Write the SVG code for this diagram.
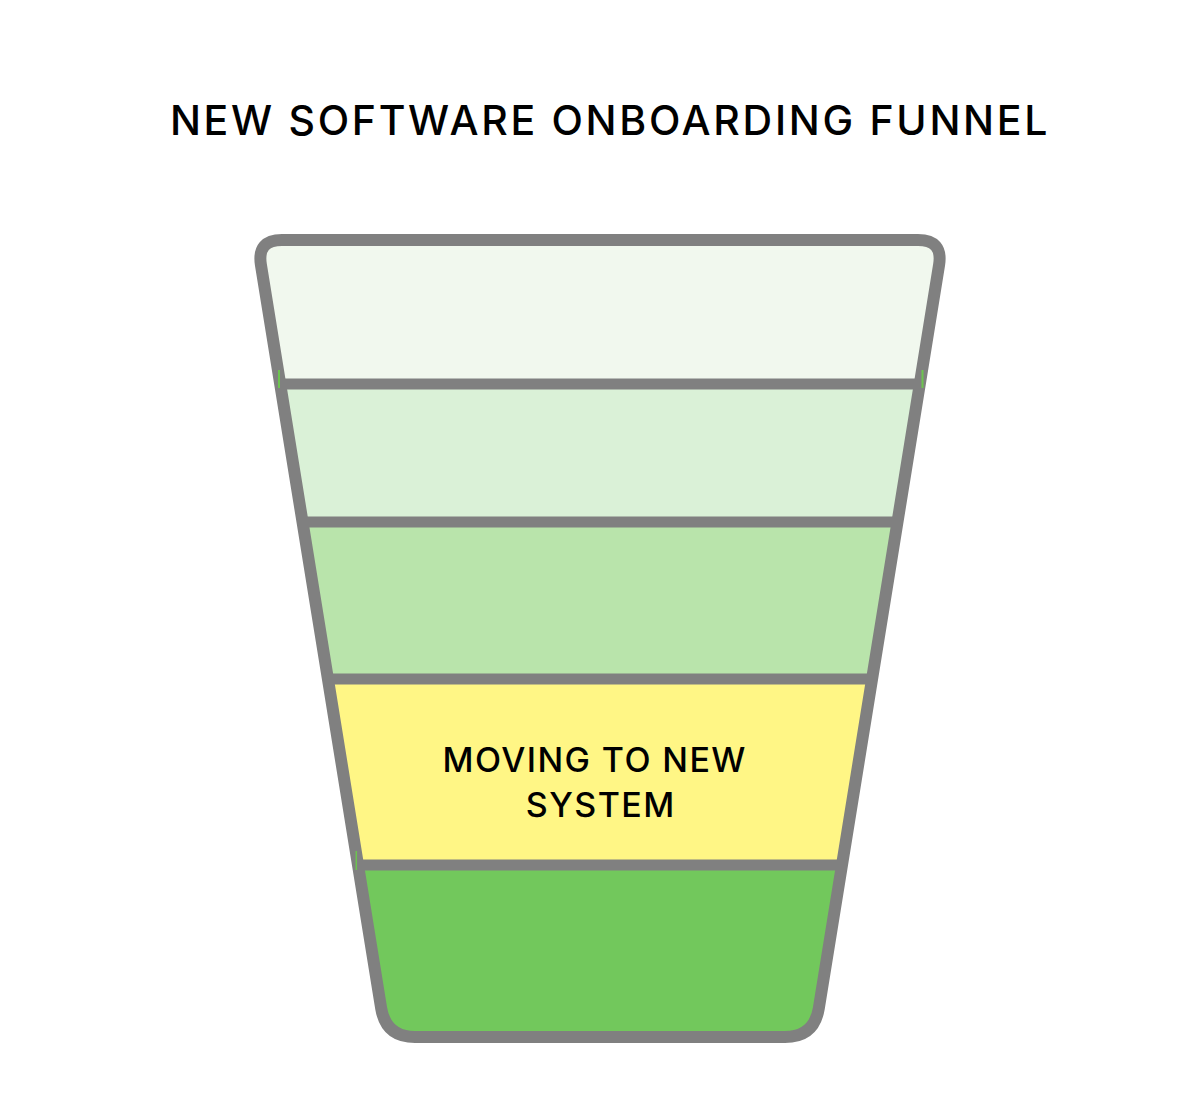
<svg xmlns="http://www.w3.org/2000/svg" width="1200" height="1095" viewBox="0 0 1200 1095">
  <style>
    .outline { fill: none; stroke: #808080; stroke-width: 12; stroke-linejoin: round; }
    .sep { stroke: #808080; stroke-width: 11; }
    .tick { stroke: #6cc44f; stroke-width: 2; }
    .title { font-family: Inter, "Liberation Sans", Arial, sans-serif; font-weight: 500; font-size: 41px; letter-spacing: 2.7px; fill: #000; }
    .label { font-family: Inter, "Liberation Sans", Arial, sans-serif; font-weight: 500; font-size: 34px; letter-spacing: 1.4px; fill: #000; }
  </style>
  <defs>
    <path id="funnelShape" d="M282,240 L918,240 Q943,240 939.1,264.7 L818.8,1008.4 Q814,1037 785,1037 L415,1037 Q386,1037 381.2,1008.4 L260.9,264.7 Q257,240 282,240 Z"/>
    <clipPath id="funnelClip">
      <use href="#funnelShape"/>
    </clipPath>
  </defs>
  <rect width="1200" height="1095" fill="#ffffff"/>
  <g id="title">
    <text class="title" x="610" y="135" text-anchor="middle">NEW SOFTWARE ONBOARDING FUNNEL</text>
  </g>
  <g clip-path="url(#funnelClip)">
    <g id="stage1"><rect x="240" y="230" width="720" height="154" fill="#f1f8ee"/></g>
    <g id="stage2"><rect x="240" y="384" width="720" height="138" fill="#daf1d7"/></g>
    <g id="stage3"><rect x="240" y="522" width="720" height="157" fill="#b9e4ab"/></g>
    <g id="stage4">
      <rect x="240" y="679" width="720" height="186" fill="#fff685"/>
    </g>
    <g id="stage5"><rect x="240" y="865" width="720" height="190" fill="#72c85c"/></g>
    <g id="separators">
      <line class="sep" x1="240" y1="384" x2="960" y2="384"/>
      <line class="sep" x1="240" y1="522" x2="960" y2="522"/>
      <line class="sep" x1="240" y1="679" x2="960" y2="679"/>
      <line class="sep" x1="240" y1="865" x2="960" y2="865"/>
    </g>
  </g>
  <g id="outline">
    <use href="#funnelShape" class="outline"/>
    <line class="tick" x1="279" y1="370" x2="279" y2="388"/>
    <line class="tick" x1="922.5" y1="370" x2="922.5" y2="388"/>
    <line class="tick" x1="356.3" y1="851" x2="356.3" y2="870" style="stroke-width:1.5"/>
  </g>
  <g id="stage4-label">
    <text class="label" text-anchor="middle"><tspan x="594.7" y="772">MOVING TO NEW</tspan><tspan x="600.7" y="817">SYSTEM</tspan></text>
  </g>
</svg>
